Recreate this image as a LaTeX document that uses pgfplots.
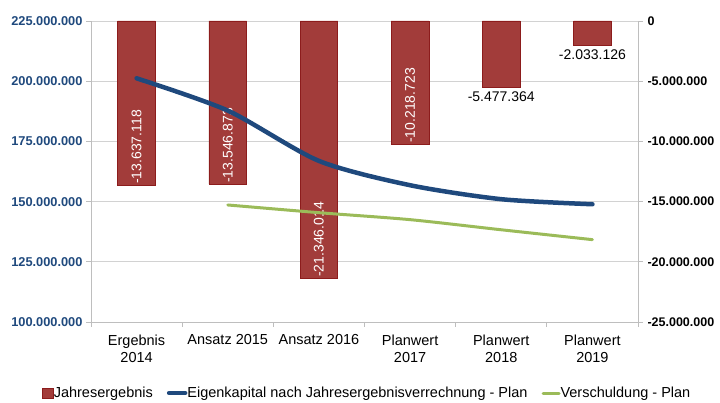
\documentclass[border=0pt]{standalone}
\usepackage{pgfplots}
\pgfplotsset{compat=1.18}
\usepackage{fontspec}
\setmainfont{Liberation Sans}
\definecolor{barred}{RGB}{162,60,58}
\definecolor{barborder}{RGB}{140,28,28}
\definecolor{eigblue}{RGB}{31,73,125}
\definecolor{vgreen}{RGB}{155,187,89}
\definecolor{axgray}{RGB}{190,190,190}
\definecolor{gridgray}{RGB}{210,210,210}
\begin{document}
\begin{tikzpicture}
\useasboundingbox (0,0) rectangle (720bp,403bp);
% bar axis (right)
\begin{axis}[
  at={(91bp,81bp)}, anchor=south west,
  scale only axis, width=547bp, height=301bp,
  xmin=-0.5, xmax=5.5,
  ymin=-25000000, ymax=0,
  scaled y ticks=false,
  axis y line*=right, axis x line*=bottom,
  axis line style={draw=axgray, line width=0.8bp},
  tick align=outside, major tick length=5bp,
  tick style={draw=axgray, line width=0.8bp},
  xtick={-0.5,0.5,1.5,2.5,3.5,4.5,5.5},
  xticklabels={},
  extra x ticks={0,1,2,3,4,5},
  extra x tick labels={Ergebnis\\2014,Ansatz 2015,Ansatz 2016,Planwert\\2017,Planwert\\2018,Planwert\\2019},
  extra x tick style={major tick length=0pt, tick label style={align=center, font=\fontsize{14.5bp}{17bp}\selectfont, text=black, anchor=north, yshift=-9bp}},
  ytick={-25000000,-20000000,-15000000,-10000000,-5000000,0},
  yticklabels={-25.000.000,-20.000.000,-15.000.000,-10.000.000,-5.000.000,0},
  yticklabel style={font=\fontsize{12.5bp}{15bp}\selectfont\bfseries, text=black, xshift=1bp},
  ymajorgrids, grid style={draw=gridgray, line width=0.8bp},
  ybar, bar width=0.414,
  point meta=explicit symbolic,
  clip=false,
]
\addplot[ybar, bar shift=0pt, fill=barred, draw=barborder, line width=0.6bp,
  nodes near coords,
  nodes near coords style={rotate=90, anchor=west, text=white, inner sep=1bp, font=\fontsize{14bp}{16bp}\selectfont}]
  coordinates {(0,-13637118) [-13.637.118] (1,-13546873) [-13.546.873] (2,-21346014) [-21.346.014] (3,-10218723) [-10.218.723]};
\addplot[ybar, bar shift=0pt, fill=barred, draw=barborder, line width=0.6bp,
  nodes near coords,
  nodes near coords style={anchor=north, text=black, inner sep=2bp, yshift=-2bp, font=\fontsize{14bp}{16bp}\selectfont}]
  coordinates {(4,-5477364) [-5.477.364] (5,-2033126) [-2.033.126]};
\end{axis}
% line axis (left)
\begin{axis}[
  at={(91bp,81bp)}, anchor=south west,
  scale only axis, width=547bp, height=301bp,
  xmin=-0.5, xmax=5.5,
  ymin=100000000, ymax=225000000,
  scaled y ticks=false,
  axis y line*=left, axis x line=none,
  axis line style={draw=axgray, line width=0.8bp},
  tick align=outside, major tick length=5bp,
  tick style={draw=axgray, line width=0.8bp},
  ytick={100000000,125000000,150000000,175000000,200000000,225000000},
  yticklabels={100.000.000,125.000.000,150.000.000,175.000.000,200.000.000,225.000.000},
  yticklabel style={font=\fontsize{12.8bp}{15bp}\selectfont\bfseries, text=eigblue},
  legend columns=3,
  legend style={at={(0.505,-0.236)}, anchor=center, draw=none, fill=none,
    font=\fontsize{14.5bp}{17bp}\selectfont,
    /tikz/every even column/.append style={column sep=12bp},
    /tikz/every odd column/.append style={column sep=-2bp},
    inner sep=0pt},
  legend cell align=left,
  clip=false,
]
\addlegendimage{legend image code/.code={\draw[fill=barred, draw=barborder, line width=0.6bp] (4bp,-5bp) rectangle (15bp,5bp);}}
\addlegendentry{Jahresergebnis}
\addplot[eigblue, line width=4.5bp, smooth, tension=0.45, line cap=round,
  legend image code/.code={\draw[eigblue, line width=4.5bp, line cap=round] (0bp,0bp) -- (16bp,0bp);}]
  coordinates {(0,201200000) (1,187800000) (2,166900000) (3,156800000) (4,151000000) (5,148900000)};
\addlegendentry{Eigenkapital nach Jahresergebnisverrechnung - Plan}
\addplot[vgreen, line width=3bp, smooth, tension=0.45, line cap=round,
  legend image code/.code={\draw[vgreen, line width=3bp, line cap=round] (0bp,0bp) -- (16bp,0bp);}]
  coordinates {(1,148600000) (2,145400000) (3,142500000) (4,138300000) (5,134200000)};
\addlegendentry{Verschuldung - Plan}
\end{axis}
\end{tikzpicture}
\end{document}
